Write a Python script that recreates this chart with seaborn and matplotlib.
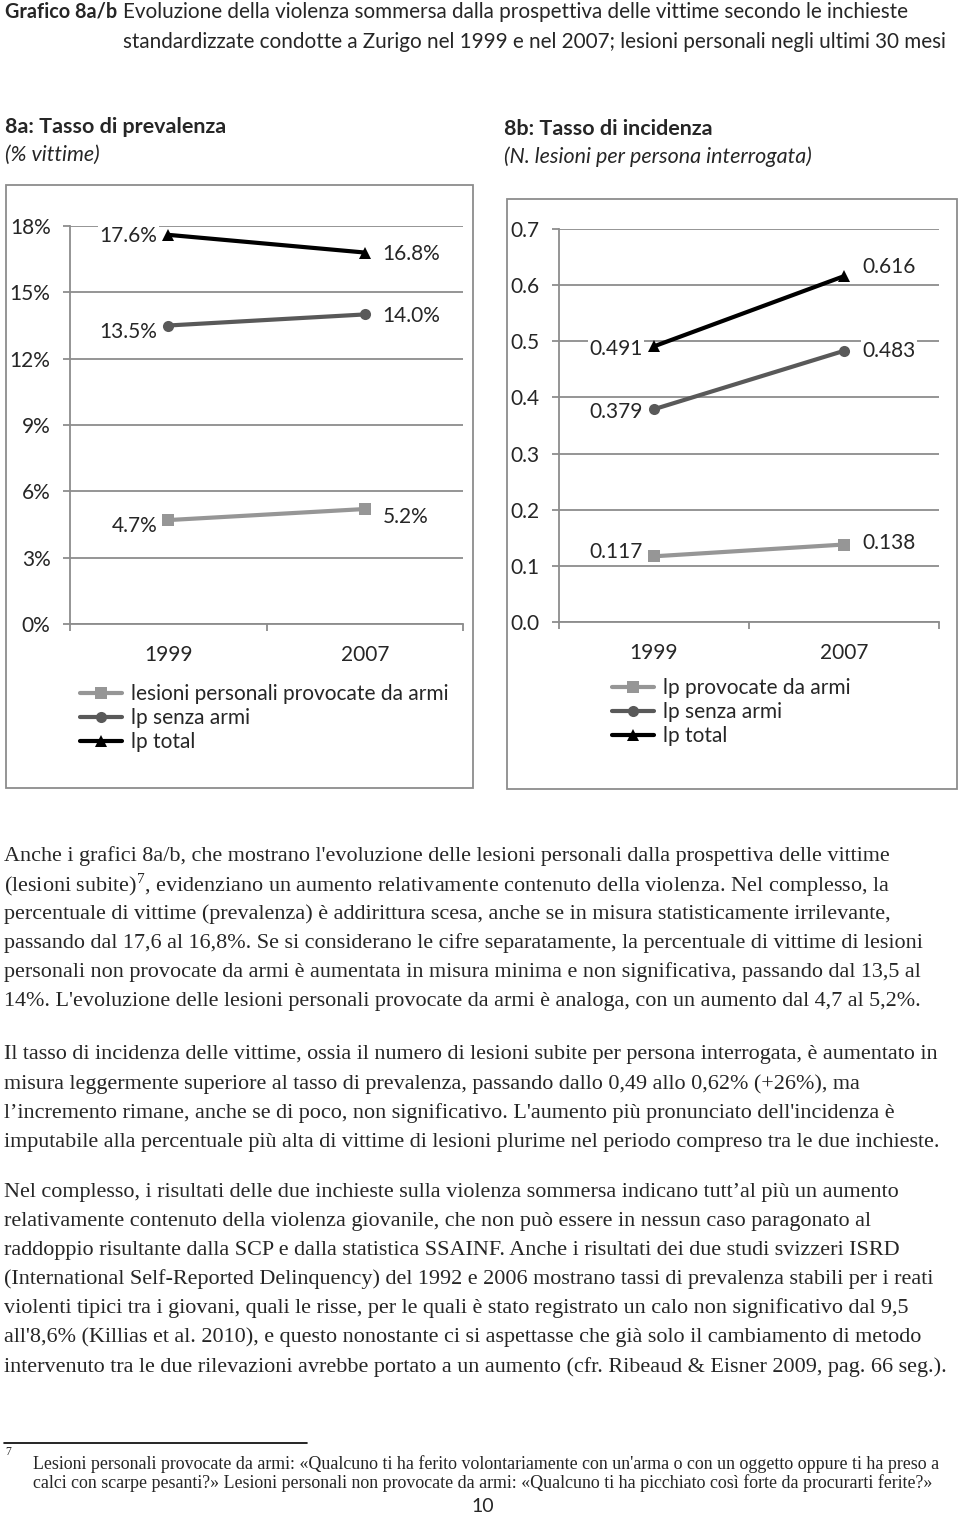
import matplotlib
matplotlib.use("Agg")
import matplotlib.pyplot as plt
import pandas as pd
import seaborn as sns
from matplotlib.lines import Line2D
from matplotlib.patches import Rectangle

# data
years = ["1999", "2007"]
series_8a = ["lesioni personali provocate da armi", "lp senza armi", "lp total"]
series_8b = ["lp provocate da armi", "lp senza armi", "lp total"]
prev_armi = [4.7, 5.2]
prev_senza = [13.5, 14.0]
prev_total = [17.6, 16.8]
inc_armi = [0.117, 0.138]
inc_senza = [0.379, 0.483]
inc_total = [0.491, 0.616]
prev_ticks = [0, 3, 6, 9, 12, 15, 18]
inc_ticks = [0.0, 0.1, 0.2, 0.3, 0.4, 0.5, 0.6, 0.7]

title_bold = "Grafico 8a/b"
title_1 = "Evoluzione della violenza sommersa dalla prospettiva delle vittime secondo le inchieste"
title_2 = "standardizzate condotte a Zurigo nel 1999 e nel 2007; lesioni personali negli ultimi 30 mesi"

para_1 = [
    "Anche i grafici 8a/b, che mostrano l'evoluzione delle lesioni personali dalla prospettiva delle vittime",
    "(lesioni subite)$^{7}$, evidenziano un aumento relativamente contenuto della violenza. Nel complesso, la",
    "percentuale di vittime (prevalenza) è addirittura scesa, anche se in misura statisticamente irrilevante,",
    "passando dal 17,6 al 16,8%. Se si considerano le cifre separatamente, la percentuale di vittime di lesioni",
    "personali non provocate da armi è aumentata in misura minima e non significativa, passando dal 13,5 al",
    "14%. L'evoluzione delle lesioni personali provocate da armi è analoga, con un aumento dal 4,7 al 5,2%.",
]
para_2 = [
    "Il tasso di incidenza delle vittime, ossia il numero di lesioni subite per persona interrogata, è aumentato in",
    "misura leggermente superiore al tasso di prevalenza, passando dallo 0,49 allo 0,62% (+26%), ma",
    "l’incremento rimane, anche se di poco, non significativo. L'aumento più pronunciato dell'incidenza è",
    "imputabile alla percentuale più alta di vittime di lesioni plurime nel periodo compreso tra le due inchieste.",
]
para_3 = [
    "Nel complesso, i risultati delle due inchieste sulla violenza sommersa indicano tutt’al più un aumento",
    "relativamente contenuto della violenza giovanile, che non può essere in nessun caso paragonato al",
    "raddoppio risultante dalla SCP e dalla statistica SSAINF. Anche i risultati dei due studi svizzeri ISRD",
    "(International Self-Reported Delinquency) del 1992 e 2006 mostrano tassi di prevalenza stabili per i reati",
    "violenti tipici tra i giovani, quali le risse, per le quali è stato registrato un calo non significativo dal 9,5",
    "all'8,6% (Killias et al. 2010), e questo nonostante ci si aspettasse che già solo il cambiamento di metodo",
    "intervenuto tra le due rilevazioni avrebbe portato a un aumento (cfr. Ribeaud & Eisner 2009, pag. 66 seg.).",
]
footnote = [
    "Lesioni personali provocate da armi: «Qualcuno ti ha ferito volontariamente con un'arma o con un oggetto oppure ti ha preso a",
    "calci con scarpe pesanti?» Lesioni personali non provocate da armi: «Qualcuno ti ha picchiato così forte da procurarti ferite?»",
]

sns.set_theme(style="white")
plt.rcParams["font.family"] = ["Lato", "DejaVu Sans"]
plt.rcParams["mathtext.fontset"] = "custom"
plt.rcParams["mathtext.rm"] = "Liberation Serif"

W, H = 960, 1515
fig = plt.figure(figsize=(9.6, 15.15), dpi=100)
renderer = fig.canvas.get_renderer()


def fx(x):
    return x / W


def fy(y):
    return 1 - y / H


def fit(s, target, **kw):
    t = fig.text(0, 0, s, fontsize=10, **kw)
    w = t.get_window_extent(renderer=renderer).width
    t.remove()
    return 10 * target / w


colors = ["#969696", "#595959", "#000000"]
markers = ["s", "o", "^"]
gray = "#8c8c8c"
fsz = 15


def draw(ax, labels, values, ymax, ticks, tickfmt, valfmt, dys, legend_xy):
    df = pd.DataFrame({
        "anno": years * 3,
        "valore": values[0] + values[1] + values[2],
        "serie": [l for l in labels for _ in years],
    })
    sns.lineplot(data=df, x="anno", y="valore", hue="serie", style="serie",
                 palette=dict(zip(labels, colors)), markers=dict(zip(labels, markers)),
                 dashes=False, linewidth=3, markersize=8, markeredgewidth=0,
                 legend=False, sort=False, ax=ax, zorder=4)
    ax.set_xlim(-0.5, 1.5)
    ax.set_ylim(0, ymax)
    ax.set_yticks(ticks)
    ax.set_yticklabels([tickfmt.format(t) for t in ticks])
    ax.set_xlabel("")
    ax.set_ylabel("")
    ax.yaxis.grid(True, color=gray, lw=1.3)
    ax.set_axisbelow(True)
    for s in ["top", "right"]:
        ax.spines[s].set_visible(False)
    for s in ["left", "bottom"]:
        ax.spines[s].set_color(gray)
        ax.spines[s].set_linewidth(1.3)
    ax.set_xticks([-0.5, 0.5, 1.5], minor=True)
    ax.tick_params(axis="x", which="major", length=0, labelsize=fsz, pad=15)
    ax.tick_params(axis="x", which="minor", bottom=True, length=5, color=gray, width=1.3)
    ax.tick_params(axis="y", left=True, length=5, color=gray, width=1.3, labelsize=fsz, pad=9)
    for i, vals in enumerate(values):
        for j, v in enumerate(vals):
            ax.annotate(valfmt.format(v), xy=(j, v),
                        xytext=(-11 if j == 0 else 18, -dys[i][j]),
                        textcoords="offset pixels", ha="right" if j == 0 else "left",
                        va="center", fontsize=fsz, zorder=3,
                        bbox=dict(fc="white", ec="none", pad=1))
    handles = [Line2D([], [], color=c, marker=m, lw=3, ms=8, mew=0)
               for c, m in zip(colors, markers)]
    ax.legend(handles, labels, loc="upper left", bbox_to_anchor=(fx(legend_xy[0]), fy(legend_xy[1])),
              bbox_transform=fig.transFigure, frameon=False, fontsize=fsz,
              handlelength=2.0, handletextpad=0.45, labelspacing=0.2,
              borderpad=0, borderaxespad=0)


# chart frames
fig.add_artist(Rectangle((fx(6), fy(788)), (473 - 6) / W, (788 - 185) / H,
                         transform=fig.transFigure, fill=False, ec=gray, lw=1.3))
fig.add_artist(Rectangle((fx(507), fy(789)), (957 - 507) / W, (789 - 199) / H,
                         transform=fig.transFigure, fill=False, ec=gray, lw=1.3))

ax1 = fig.add_axes([fx(70), fy(624), (463 - 70) / W, (624 - 226) / H])
draw(ax1, series_8a, [prev_armi, prev_senza, prev_total], 18, prev_ticks, "{:.0f}%", "{:.1f}%",
     [[6, 8], [6, 2], [1, 1]], (80, 684))

ax2 = fig.add_axes([fx(559), fy(622), (939 - 559) / W, (622 - 229) / H])
draw(ax2, series_8b, [inc_armi, inc_senza, inc_total], 0.7, inc_ticks, "{:.1f}", "{:.3f}",
     [[-4, -2], [3, 0], [3, -9]], (612, 678))

# headings
ts = fit(title_1, 785)
tb = fit(title_bold, 112, weight="bold")
fig.text(fx(5), fy(12), title_bold, fontsize=tb, weight="bold", va="center")
fig.text(fx(123), fy(12), title_1, fontsize=ts, va="center")
fig.text(fx(123), fy(42), title_2, fontsize=ts, va="center")

hs = fit("8a: Tasso di prevalenza", 221, weight="bold")
fig.text(fx(5), fy(127), "8a: Tasso di prevalenza", fontsize=hs, weight="bold", va="center")
fig.text(fx(5), fy(155), "(% vittime)", fontsize=hs, style="italic", va="center")
fig.text(fx(504), fy(129), "8b: Tasso di incidenza", fontsize=hs, weight="bold", va="center")
fig.text(fx(504), fy(157), "(N. lesioni per persona interrogata)", fontsize=hs, style="italic", va="center")

# body text
serif = ["Liberation Serif", "DejaVu Serif"]
bs = fit(para_2[0], 935, family=serif)
for lines, y0 in [(para_1, 856), (para_2, 1055), (para_3, 1192)]:
    for k, line in enumerate(lines):
        fig.text(fx(4), fy(y0 + 29.1 * k), line, fontsize=bs, family=serif, va="center")

# footnote
fig.add_artist(Line2D([fx(4), fx(307)], [fy(1443), fy(1443)], color="black", lw=1.2,
                      transform=fig.transFigure))
fs = fit(footnote[0], 909, family=serif)
fig.text(fx(5), fy(1452), "7", fontsize=fs * 0.65, family=serif, va="center")
fig.text(fx(33), fy(1464), footnote[0], fontsize=fs, family=serif, va="center")
fig.text(fx(33), fy(1483), footnote[1], fontsize=fs, family=serif, va="center")
fig.text(fx(483), fy(1506), "10", fontsize=14, ha="center", va="center")

fig.savefig("out.png", dpi=100, facecolor="white")
